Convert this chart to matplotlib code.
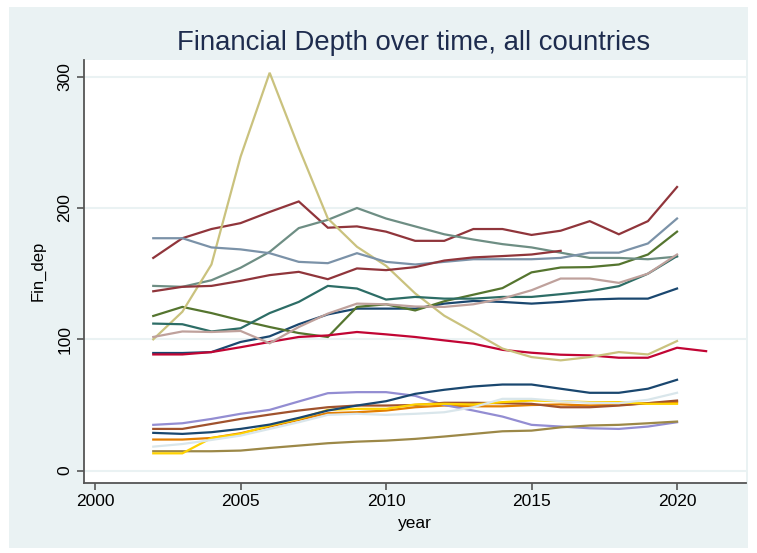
import matplotlib
matplotlib.use("Agg")
import matplotlib.pyplot as plt

plt.rcParams['font.family'] = ['Liberation Sans', 'DejaVu Sans']

years = list(range(2002, 2021))
years_ext = list(range(2002, 2022))
years_short = list(range(2002, 2017))

navy_hi = [89.6, 89.6, 90.3, 98.0, 102.3, 111.5, 119.0, 123.4, 123.4, 123.4, 127.2, 129.2, 128.5, 127.2, 128.5, 130.3, 131.0, 131.0, 138.7]
maroon_top = [162, 177, 184, 188.5, 197, 205, 185, 186, 182, 175, 175, 184, 184, 179.5, 182.7, 190, 180, 190, 216]
forest_green = [117.8, 124.7, 120, 114.5, 109.4, 104.8, 101.8, 124.7, 126.7, 122, 129, 134, 139, 151, 154.7, 155, 157, 164.6, 182]
dkorange = [23.7, 23.7, 24.9, 28.5, 33.6, 38.7, 43.8, 44.5, 45.8, 48.3, 49.6, 49.0, 49.0, 50.0, 50.4, 49.6, 50.0, 51.4, 52.2]
teal = [140.7, 140, 145, 154.5, 166.6, 184.7, 191, 200, 192, 186, 180, 176, 172.5, 170, 166, 162, 162, 161, 163]
cranberry = [88.5, 88.5, 90.3, 94, 98, 101.8, 103, 105.6, 103.8, 101.8, 99.2, 96.7, 92, 89.8, 88.3, 87.8, 86, 86, 93.6, 91]
lavender = [34.9, 36.1, 39.4, 43.3, 46.3, 52.7, 59, 59.8, 59.8, 57, 50, 45.8, 41.2, 34.9, 33.6, 32.3, 31.8, 33.6, 36.9]
khaki = [100, 121, 157, 239, 303, 246, 192, 170.5, 156, 135, 118, 105.6, 93, 86.5, 84, 86.5, 90.3, 88.5, 98.7]
sienna = [31.8, 31.8, 35.6, 39.4, 42.7, 45.8, 48.3, 49.6, 49.6, 50, 51.7, 51.7, 51.4, 50.9, 48.3, 48.3, 49.6, 51.4, 53.4]
emidblue = [177, 177, 170, 168.5, 165.6, 159, 158, 165.6, 159, 157, 159, 161, 161, 161, 162, 166, 166, 173, 192]
emerald = [112, 111.5, 106, 108.4, 120, 128.5, 140.7, 138.7, 130.3, 132.3, 131, 131, 132.3, 132.3, 134.4, 136.6, 140.5, 150, 163.4]
brown = [14.8, 14.8, 14.8, 15.3, 17.3, 19.1, 20.9, 22.1, 22.9, 24.2, 26, 28, 30, 30.5, 33, 34.4, 34.9, 36.1, 37.4]
erose = [101.8, 106, 105.6, 106.4, 97, 109.4, 119.6, 127.2, 126.7, 125, 124.7, 126.7, 131, 137.4, 146.3, 146.3, 143, 150, 164.6]
gold = [13.2, 13.2, 24.9, 28, 34.4, 39.4, 46.3, 47.1, 47.1, 50.4, 50.9, 50.4, 52.2, 53.4, 52.9, 52.2, 52.2, 50.9, 50.9]
bluishgray = [18.3, 20.3, 23.4, 26.7, 31.8, 36.9, 42.5, 43.3, 42.5, 43.3, 44.5, 48.3, 54.7, 54.7, 52.9, 51.7, 51.4, 54, 59.3]
navy_lo = [28.8, 28, 29.3, 31.8, 35.1, 40.2, 45.8, 49.6, 52.9, 58.5, 61.6, 64.1, 65.6, 65.6, 62.4, 59.3, 59.3, 62.4, 69.2]
maroon_2 = [136.6, 140, 140.7, 144.5, 148.9, 151.4, 145.8, 154, 152.7, 155, 160, 162.4, 163.4, 164.6, 167.4]

series = [
    (years, navy_hi, '#1a476f'),
    (years, maroon_top, '#90353b'),
    (years, forest_green, '#55752f'),
    (years, dkorange, '#e37e00'),
    (years, teal, '#6e8e84'),
    (years_ext, cranberry, '#c10534'),
    (years, lavender, '#938dd2'),
    (years, khaki, '#cac27e'),
    (years, sienna, '#a0522d'),
    (years, emidblue, '#7b92a8'),
    (years, emerald, '#2d6d66'),
    (years, brown, '#9c8847'),
    (years, erose, '#bfa19c'),
    (years, gold, '#ffd200'),
    (years, bluishgray, '#d9e6eb'),
    (years, navy_lo, '#1a476f'),
    (years_short, maroon_2, '#90353b'),
]

yticks = [0, 100, 200, 300]
xticks = [2000, 2005, 2010, 2015, 2020]

fig = plt.figure(figsize=(7.57, 5.53), dpi=100, facecolor='white')
bgax = fig.add_axes([9 / 757, 1 - 548 / 553, (748 - 9) / 757, (548 - 7) / 553], zorder=-5)
bgax.set_facecolor('#eaf2f3')
bgax.set_xticks([]); bgax.set_yticks([])
for s in bgax.spines.values():
    s.set_visible(False)

ax = fig.add_axes([84 / 757, 1 - 482.5 / 553, (746 - 84) / 757, (482.5 - 60) / 553], zorder=1)
ax.set_facecolor('white')

for xs, ys, c in series:
    ax.plot(xs, ys, color=c, lw=1.6, solid_joinstyle='miter')

ax.set_xlim(1999.62, 2022.37)
ax.set_ylim(-9.0, 312.7)
ax.set_yticks(yticks)
ax.set_yticklabels([str(v) for v in yticks], rotation=90, va='center')
ax.set_xticks(xticks)
ax.set_xticklabels([str(v) for v in xticks])
ax.tick_params(axis='both', labelsize=12.5, labelcolor='#000000', length=5, width=1.2,
               direction='out', color='#555555')
ax.grid(axis='y', color='#eaf2f3', lw=1.5, zorder=0)
ax.set_axisbelow(True)
for s in ['top', 'right']:
    ax.spines[s].set_visible(False)
for s in ['left', 'bottom']:
    ax.spines[s].set_color('#555555')
    ax.spines[s].set_linewidth(1.3)

ax.set_xlabel('year', fontsize=12.5, labelpad=5)
ax.set_ylabel('Fin_dep', fontsize=12, labelpad=8)
fig.text(414 / 757, 1 - 43 / 553, 'Financial Depth over time, all countries', ha='center', va='center',
         fontsize=19.8, color='#1e2c4e')

fig.savefig('out.png', dpi=100, facecolor=fig.get_facecolor())
